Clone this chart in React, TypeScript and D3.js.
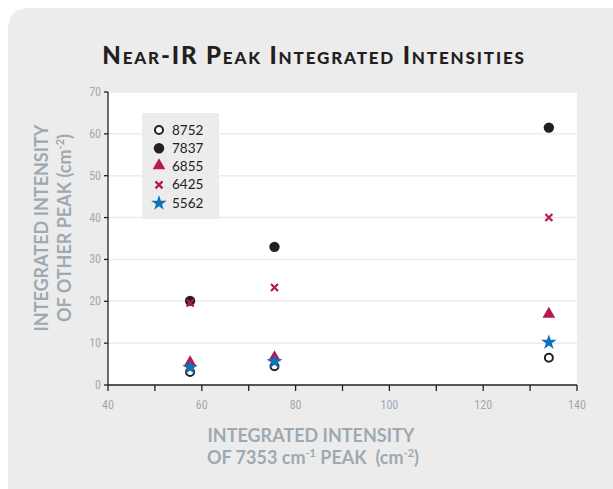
import React from 'react';
import * as d3 from 'd3';

// x positions (integrated intensity of 7353 cm-1 peak)
const xValues = [57.5, 75.5, 134];

// integrated intensity of other peaks, one array per peak
const peak8752 = [3.1, 4.5, 6.5];
const peak7837 = [20.1, 33, 61.5];
const peak6855 = [5.1, 6.3, 16.7];
const peak6425 = [19.6, 23.3, 40];
const peak5562 = [4.2, 5.6, 10.2];

const xTicks = [40, 60, 80, 100, 120, 140];
const xMinorTicks = [50, 70, 90, 110, 130];
const yTicks = [0, 10, 20, 30, 40, 50, 60, 70];

const series = [
  { name: '8752', values: peak8752, kind: 'open' },
  { name: '7837', values: peak7837, kind: 'dot' },
  { name: '6855', values: peak6855, kind: 'tri' },
  { name: '6425', values: peak6425, kind: 'x' },
  { name: '5562', values: peak5562, kind: 'star' },
];

const W = 613;
const H = 489;
const margin = { top: 92, right: 36, bottom: 104, left: 108 };

const DARK = '#231f20';
const RED = '#b8184b';
const BLUE = '#0b72bb';
const AXIS_GRAY = '#9ea9b1';

const Marker = ({ kind, x, y }: { kind: string; x: number; y: number }) => {
  const t = `translate(${x},${y})`;
  if (kind === 'open')
    return <circle cx={x} cy={y} r={4} fill="#fff" stroke={DARK} strokeWidth={2} />;
  if (kind === 'dot') return <circle cx={x} cy={y} r={5.2} fill={DARK} />;
  if (kind === 'tri')
    return (
      <path
        transform={`${t} translate(0,-1)`}
        d={d3.symbol().type(d3.symbolTriangle).size(70)() || ''}
        fill={RED}
      />
    );
  if (kind === 'x')
    return (
      <path transform={t} d="M-3.5,-3.5L3.5,3.5M-3.5,3.5L3.5,-3.5" stroke={RED} strokeWidth={2.2} fill="none" />
    );
  return <path transform={t} d={d3.symbol().type(d3.symbolStar).size(75)() || ''} fill={BLUE} />;
};

export default function App() {
  const x = d3.scaleLinear().domain([40, 140]).range([margin.left, W - margin.right]);
  const y = d3.scaleLinear().domain([0, 70]).range([H - margin.bottom, margin.top]);
  const x0 = x(40);
  const y0 = y(0);
  const tickFont = '"Liberation Sans Narrow", "Roboto Condensed", Roboto, sans-serif';
  const labelFont = 'Lato, "Open Sans", sans-serif';

  return (
    <svg width={W} height={H} style={{ position: 'absolute', left: 0, top: 0 }}>
      <rect x={0} y={0} width={W} height={H} fill="#fff" />
      <path
        d={`M8,${H}L8,30Q8,8 30,8L${W},8L${W},${H}Z`}
        fill="#ececec"
      />
      <text
        x={314}
        y={64}
        textAnchor="middle"
        fontFamily={labelFont}
        fontWeight={900}
        fontSize={24}
        letterSpacing={1.85}
        fill={DARK}
        style={{ fontVariant: 'small-caps' }}
      >
        Near-IR Peak Integrated Intensities
      </text>

      {/* plot background */}
      <rect x={x0} y={y(70)} width={x(140) - x0} height={y0 - y(70)} fill="#fff" />
      {yTicks.slice(1).map((t) => (
        <line key={t} x1={x0} x2={x(140)} y1={y(t)} y2={y(t)} stroke="#ececec" strokeWidth={1.5} />
      ))}

      {/* legend */}
      <rect x={142} y={113} width={77} height={106} fill="#ececec" />
      {series.map((s, i) => (
        <g key={s.name}>
          <Marker kind={s.kind} x={159} y={130 + i * 18.3} />
          <text x={172} y={130 + i * 18.3 + 4.5} fontFamily={labelFont} fontSize={13.5} fill={DARK}>
            {s.name}
          </text>
        </g>
      ))}

      {/* axes */}
      <line x1={x0} x2={x0} y1={y(70)} y2={y0} stroke={DARK} strokeWidth={1.3} />
      <line x1={x0} x2={x(140)} y1={y0} y2={y0} stroke={DARK} strokeWidth={1.3} />
      {yTicks.map((t) => (
        <g key={t}>
          <line x1={x0 - 4} x2={x0} y1={y(t)} y2={y(t)} stroke={DARK} strokeWidth={1.3} />
          <text
            x={x0 - 7}
            y={y(t) + 4}
            textAnchor="end"
            fontFamily={tickFont}
            fontSize={12}
            fill={AXIS_GRAY}
          >
            {t}
          </text>
        </g>
      ))}
      {[...xTicks, ...xMinorTicks].map((t) => (
        <line key={t} x1={x(t)} x2={x(t)} y1={y0} y2={y0 + 6} stroke={DARK} strokeWidth={1.3} />
      ))}
      {xTicks.map((t) => (
        <text
          key={t}
          x={x(t)}
          y={y0 + 24}
          textAnchor="middle"
          fontFamily={tickFont}
          fontSize={12}
          fill={AXIS_GRAY}
        >
          {t}
        </text>
      ))}

      {/* data */}
      {series.map((s) =>
        s.values.map((v, i) => <Marker key={s.name + i} kind={s.kind} x={x(xValues[i])} y={y(v)} />)
      )}

      {/* axis titles */}
      <g fontFamily={labelFont} fontWeight={700} fontSize={18} fill={AXIS_GRAY} textAnchor="middle">
        <text x={311} y={442}>INTEGRATED INTENSITY</text>
        <text x={313} y={464} xmlSpace="preserve">
          OF 7353 cm
          <tspan fontSize={11} dy={-7}>-1</tspan>
          <tspan dy={7}>{' PEAK\u00a0 (cm'}</tspan>
          <tspan fontSize={11} dy={-7}>-2</tspan>
          <tspan dy={7}>)</tspan>
        </text>
        <text transform="translate(48,228) rotate(-90)">INTEGRATED INTENSITY</text>
        <text transform="translate(71,228) rotate(-90)">
          OF OTHER PEAK (cm
          <tspan fontSize={11} dy={-7}>-2</tspan>
          <tspan dy={7}>)</tspan>
        </text>
      </g>
    </svg>
  );
}
